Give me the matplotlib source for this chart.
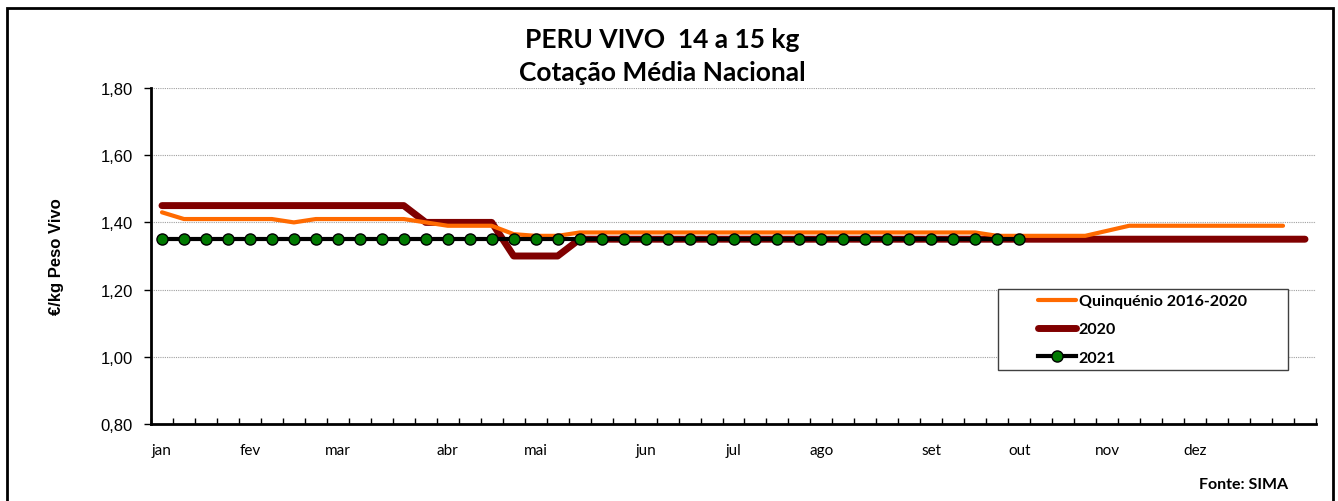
import matplotlib
matplotlib.use("Agg")
import matplotlib.pyplot as plt
from matplotlib.ticker import FuncFormatter, FixedLocator
from matplotlib.patches import Rectangle

weeks = list(range(53))
months = ["jan", "fev", "mar", "abr", "mai", "jun", "jul", "ago", "set", "out", "nov", "dez"]
month_pos = [0, 4, 8, 13, 17, 22, 26, 30, 35, 39, 43, 47]

quinq = [1.43, 1.41, 1.41, 1.41, 1.41, 1.41, 1.40, 1.41, 1.41, 1.41, 1.41, 1.41,
         1.40, 1.39, 1.39, 1.39, 1.365, 1.36, 1.36, 1.37, 1.37, 1.37, 1.37, 1.37,
         1.37, 1.37, 1.37, 1.37, 1.37, 1.37, 1.37, 1.37, 1.37, 1.37, 1.37, 1.37,
         1.37, 1.37, 1.36, 1.36, 1.36, 1.36, 1.36, 1.375, 1.39, 1.39, 1.39, 1.39,
         1.39, 1.39, 1.39, 1.39]
y2020 = [1.45] * 12 + [1.40] * 4 + [1.30] * 3 + [1.35] * 34
y2021 = [1.35] * 40

fig = plt.figure(figsize=(13.38, 5.02), dpi=100)
ax = fig.add_axes([151 / 1338, 1 - 425 / 502, (1316 - 151) / 1338, (425 - 89) / 502])

ax.plot(weeks[:len(quinq)], quinq, color="#FF6A00", lw=3, solid_capstyle="round",
        label="Quinquénio 2016-2020", zorder=3)
ax.plot(weeks[:len(y2020)], y2020, color="#800000", lw=5, solid_capstyle="round",
        label="2020", zorder=2)
ax.plot(weeks[:len(y2021)], y2021, color="black", lw=3, marker="o", markersize=8,
        markerfacecolor="#007A00", markeredgecolor="black", markeredgewidth=1,
        label="2021", zorder=4)

ax.set_xlim(-0.5, 52.5)
ax.set_ylim(0.8, 1.8)
ax.set_yticks([0.8, 1.0, 1.2, 1.4, 1.6, 1.8])
ax.yaxis.set_major_formatter(FuncFormatter(lambda v, p: f"{v:.2f}".replace(".", ",")))
ax.grid(axis="y", color="#A0A0A0", linestyle=(0, (1, 1)), lw=0.8)
ax.set_axisbelow(True)

ax.set_xticks(month_pos)
ax.set_xticklabels(months, family="Lato", fontsize=11)
ax.tick_params(axis="x", which="major", length=0, pad=14)
ax.xaxis.set_minor_locator(FixedLocator([i - 0.5 for i in range(54)]))
ax.tick_params(axis="x", which="minor", direction="in", length=4, width=1)
ax.tick_params(axis="y", direction="out", length=5, width=1, labelsize=12, pad=8)
for lbl in ax.get_yticklabels():
    lbl.set_family("Liberation Sans")

for s in ["top", "right"]:
    ax.spines[s].set_visible(False)
ax.spines["left"].set_linewidth(2)
ax.spines["bottom"].set_linewidth(2)

ax.set_ylabel("€/kg Peso Vivo", family="Liberation Sans", fontweight="bold",
              fontsize=12, labelpad=26)

fig.text(662 / 1338, 1 - 40 / 502, "PERU VIVO  14 a 15 kg", ha="center", va="center",
         family="Lato", fontweight="bold", fontsize=19)
fig.text(662 / 1338, 1 - 73 / 502, "Cotação Média Nacional", ha="center", va="center",
         family="Lato", fontweight="bold", fontsize=19)
fig.text(1288 / 1338, 1 - 485 / 502, "Fonte: SIMA", ha="right", va="center",
         family="Lato", fontweight="bold", fontsize=11.5)

# legend box
fig.patches.append(Rectangle((998 / 1338, 1 - 371 / 502), 290 / 1338, 81 / 502,
                             transform=fig.transFigure, facecolor="white",
                             edgecolor="#404040", lw=1, zorder=5))
leg = fig.legend(loc="upper left", bbox_to_anchor=(1038 / 1338, 1 - 295 / 502),
                 frameon=False,
                 prop={"family": "Lato", "weight": "bold", "size": 11.5},
                 handlelength=2.4, handletextpad=0.15, borderpad=0,
                 labelspacing=0.88, borderaxespad=0)
leg.set_zorder(6)

fig.patches.append(Rectangle((7 / 1338, -0.1), (1333 - 7) / 1338, 1.1 - 9 / 502,
                             transform=fig.transFigure, fill=False, edgecolor="black",
                             lw=2, zorder=10))

fig.savefig("out.png", dpi=100)
